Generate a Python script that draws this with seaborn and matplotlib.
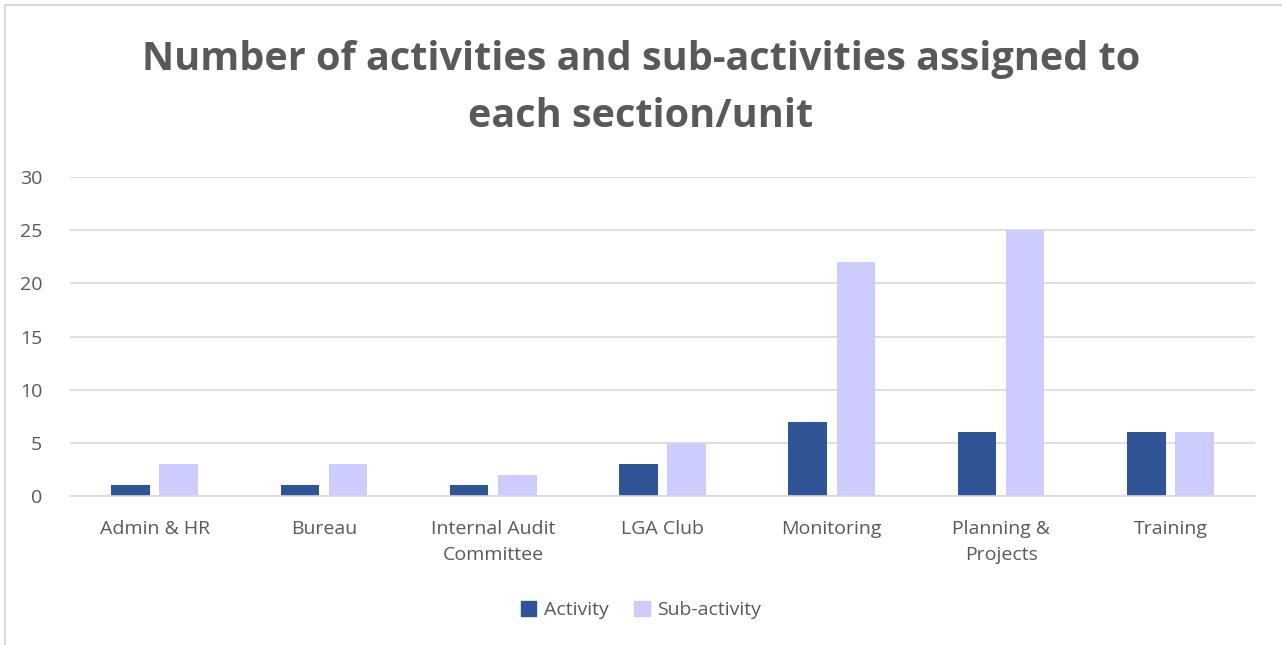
import matplotlib
matplotlib.use("Agg")
import matplotlib.pyplot as plt
import matplotlib.patches as mpatches
import seaborn as sns
import pandas as pd

sections = ["Admin & HR", "Bureau", "Internal Audit\nCommittee", "LGA Club",
            "Monitoring", "Planning &\nProjects", "Training"]
activity = [1, 1, 1, 3, 7, 6, 6]
sub_activity = [3, 3, 2, 5, 22, 25, 6]
yticks = [0, 5, 10, 15, 20, 25, 30]

df = pd.DataFrame({
    "section": sections * 2,
    "value": activity + sub_activity,
    "kind": ["Activity"] * len(sections) + ["Sub-activity"] * len(sections),
})

sns.set_style("white")
plt.rcParams["font.family"] = ["Open Sans", "DejaVu Sans"]

fig = plt.figure(figsize=(12.82, 6.45), dpi=100)
ax = fig.add_axes([70 / 1282, 1 - 496 / 645, 1185 / 1282, 319 / 645])

sns.barplot(data=df, x="section", y="value", hue="kind", ax=ax,
            palette=["#2f5597", "#ccccff"], width=0.57, gap=0.2,
            saturation=1, legend=False, linewidth=0)

ax.set_ylim(0, 30)
ax.set_xlim(-0.5, len(sections) - 0.5)
ax.set_yticks(yticks)
ax.yaxis.grid(True, color="#d9d9d9", linewidth=1.2)
ax.set_axisbelow(True)
for s in ["top", "right", "left"]:
    ax.spines[s].set_visible(False)
ax.spines["bottom"].set_color("#d9d9d9")
ax.spines["bottom"].set_linewidth(1.2)
ax.tick_params(axis="both", length=0, labelsize=14, colors="#595959")
ax.tick_params(axis="x", pad=17)
ax.tick_params(axis="y", pad=20)
for lbl in ax.get_xticklabels():
    lbl.set_linespacing(1.6)
ax.set_xlabel("")
ax.set_ylabel("")

fig.text(0.5, 1 - 88 / 645, "Number of activities and sub-activities assigned to\neach section/unit",
         ha="center", va="center", fontsize=28.5, fontweight="bold", color="#595959",
         linespacing=1.62)

handles = [mpatches.Patch(color="#2f5597", label="Activity"),
           mpatches.Patch(color="#ccccff", label="Sub-activity")]
fig.legend(handles=handles, loc="center", bbox_to_anchor=(0.5, 1 - 610 / 645),
           ncol=2, frameon=False, fontsize=14, handlelength=0.8, handleheight=0.8,
           handletextpad=0.4, columnspacing=1.3, labelcolor="#595959")

fig.patches.append(mpatches.Rectangle((5 / 1282, -0.01), 1.0, 1 - 5 / 645 + 0.01,
                                      transform=fig.transFigure, fill=False,
                                      edgecolor="#d9d9d9", linewidth=1.5))

fig.savefig("out.png", dpi=100)
